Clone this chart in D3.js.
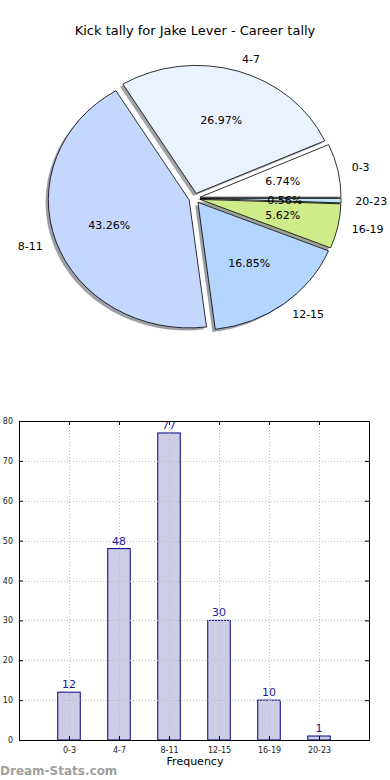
<!DOCTYPE html>
<html>
<head>
<meta charset="utf-8">
<script src="https://cdn.jsdelivr.net/npm/d3@7"></script>
<style>
  body { margin: 0; background: #fff; }
  svg { display: block; font-family: "DejaVu Sans", sans-serif; }
</style>
</head>
<body>
<svg id="chart" width="390" height="780"></svg>
<script>
// kick tally buckets
var categories = ["0-3", "4-7", "8-11", "12-15", "16-19", "20-23"];
var kicks = [12, 48, 77, 30, 10, 1];
var sliceColors = ["#ffffff", "#eaf1ff", "#c4d8ff", "#b3d5ff", "#cfeb8a", "#bfe3f5"];
var yTicks = [0, 10, 20, 30, 40, 50, 60, 70, 80];

var svg = d3.select("#chart");
var total = d3.sum(kicks);

svg.append("text")
  .attr("x", 195).attr("y", 35)
  .attr("text-anchor", "middle")
  .style("font-size", "13px")
  .style("fill", "#000")
  .text("Kick tally for Jake Lever - Career tally");

// ---- pie (matplotlib style: ccw from 3 o'clock, slightly elliptical) ----
var cx = 194.5, cy = 198.3, rx = 141, ry = 128, explode = 0.04;

var pie = d3.pie().sort(null)
  .startAngle(Math.PI / 2)
  .endAngle(Math.PI / 2 - 2 * Math.PI);
var arcs = pie(kicks);
var unitArc = d3.arc().innerRadius(0).outerRadius(1);

function mid(d) { return (d.startAngle + d.endAngle) / 2; }
function centerOf(d) {
  var m = mid(d);
  return [cx + explode * rx * Math.sin(m), cy - explode * ry * Math.cos(m)];
}

var pieG = svg.append("g");

// shadows first, under every wedge
pieG.selectAll("path.shadow").data(arcs).enter().append("path")
  .attr("class", "shadow")
  .attr("d", unitArc)
  .attr("transform", function(d) {
    var c = centerOf(d);
    return "translate(" + (c[0] - 0.02 * rx) + "," + (c[1] + 0.02 * ry) + ") scale(" + rx + "," + ry + ")";
  })
  .attr("fill", function(d, i) {
    var c = d3.rgb(sliceColors[i]);
    return d3.rgb(c.r * 0.3, c.g * 0.3, c.b * 0.3);
  })
  .attr("fill-opacity", 0.5);

pieG.selectAll("path.wedge").data(arcs).enter().append("path")
  .attr("class", "wedge")
  .attr("d", unitArc)
  .attr("transform", function(d) {
    var c = centerOf(d);
    return "translate(" + c[0] + "," + c[1] + ") scale(" + rx + "," + ry + ")";
  })
  .attr("fill", function(d, i) { return sliceColors[i]; })
  .attr("stroke", "#000")
  .attr("stroke-width", 0.8)
  .attr("vector-effect", "non-scaling-stroke");

// category labels at 1.1 r
pieG.selectAll("text.lbl").data(arcs).enter().append("text")
  .attr("class", "lbl")
  .attr("x", function(d) { return centerOf(d)[0] + 1.1 * rx * Math.sin(mid(d)); })
  .attr("y", function(d) { return centerOf(d)[1] - 1.1 * ry * Math.cos(mid(d)); })
  .attr("dy", "0.35em")
  .attr("text-anchor", function(d) { return Math.sin(mid(d)) > 0 ? "start" : "end"; })
  .style("font-size", "11px")
  .text(function(d, i) { return categories[i]; });

// percentages at 0.6 r
pieG.selectAll("text.pct").data(arcs).enter().append("text")
  .attr("class", "pct")
  .attr("x", function(d) { return centerOf(d)[0] + 0.6 * rx * Math.sin(mid(d)); })
  .attr("y", function(d) { return centerOf(d)[1] - 0.6 * ry * Math.cos(mid(d)); })
  .attr("dy", "0.35em")
  .attr("text-anchor", "middle")
  .style("font-size", "11px")
  .text(function(d) { return (d.value / total * 100).toFixed(2) + "%"; });

// ---- bar chart ----
// (don't call it "top", that's window.top)
var plotL = 19, plotR = 369, plotT = 421, plotB = 740;
var x = d3.scaleLinear().domain([-1, 6]).range([plotL, plotR]);
var y = d3.scaleLinear().domain([0, 80]).range([plotB, plotT]);
var barW = x(0.45) - x(0);

var barG = svg.append("g");

barG.selectAll("rect.bar").data(kicks).enter().append("rect")
  .attr("class", "bar")
  .attr("x", function(d, i) { return x(i) - barW / 2; })
  .attr("y", function(d) { return y(d); })
  .attr("width", barW)
  .attr("height", function(d) { return y(0) - y(d); })
  .attr("fill", "#ccccE5")
  .attr("stroke", "#000080")
  .attr("stroke-width", 1);

// grid, drawn over the bars
var gridStyle = function(sel) {
  sel.attr("stroke", "#bdbdbd").attr("stroke-width", 1).attr("stroke-dasharray", "1,2");
};
barG.selectAll("line.gx").data(categories).enter().append("line")
  .attr("class", "gx")
  .attr("x1", function(d, i) { return Math.round(x(i)) + 0.5; })
  .attr("x2", function(d, i) { return Math.round(x(i)) + 0.5; })
  .attr("y1", plotT).attr("y2", plotB)
  .call(gridStyle);
barG.selectAll("line.gy").data(yTicks.slice(1, -1)).enter().append("line")
  .attr("class", "gy")
  .attr("x1", plotL).attr("x2", plotR)
  .attr("y1", function(d) { return Math.round(y(d)) + 0.5; })
  .attr("y2", function(d) { return Math.round(y(d)) + 0.5; })
  .call(gridStyle);

// value labels
barG.selectAll("text.val").data(kicks).enter().append("text")
  .attr("class", "val")
  .attr("x", function(d, i) { return x(i); })
  .attr("y", function(d) { return y(d) - 4; })
  .attr("text-anchor", "middle")
  .style("font-size", "11px")
  .style("fill", "#1a1a99")
  .text(function(d) { return d; });

// axes, ticks pointing inward on all four sides
var axB = d3.axisBottom(x).tickValues(d3.range(categories.length))
  .tickFormat(function(i) { return categories[i]; }).tickSizeInner(-4).tickSizeOuter(0).tickPadding(7);
var axT = d3.axisTop(x).tickValues(d3.range(categories.length))
  .tickFormat("").tickSizeInner(-4).tickSizeOuter(0);
var axL = d3.axisLeft(y).tickValues(yTicks).tickSizeInner(-4).tickSizeOuter(0).tickPadding(6);
var axR = d3.axisRight(y).tickValues(yTicks).tickFormat("").tickSizeInner(-4).tickSizeOuter(0);

function styleAxis(g) {
  g.select(".domain").remove();
  g.selectAll(".tick line").attr("stroke", "#000");
  g.selectAll(".tick text").style("font-size", "8px").style("font-family", "DejaVu Sans, sans-serif").attr("fill", "#222");
}
svg.append("g").attr("transform", "translate(0," + plotB + ")").call(axB).call(styleAxis);
svg.append("g").attr("transform", "translate(0," + plotT + ")").call(axT).call(styleAxis);
svg.append("g").attr("transform", "translate(" + plotL + ",0)").call(axL).call(styleAxis);
svg.append("g").attr("transform", "translate(" + plotR + ",0)").call(axR).call(styleAxis);

svg.append("rect")
  .attr("x", plotL + 0.5).attr("y", plotT + 0.5)
  .attr("width", plotR - plotL).attr("height", plotB - plotT)
  .attr("fill", "none").attr("stroke", "#000").attr("stroke-width", 1);

svg.append("text")
  .attr("x", (plotL + plotR) / 2 + 1).attr("y", 765)
  .attr("text-anchor", "middle")
  .style("font-size", "11px")
  .text("Frequency");

svg.append("text")
  .attr("x", 0).attr("y", 775)
  .style("font-size", "12px")
  .style("font-weight", "bold")
  .style("fill", "#a0a0a0")
  .text("Dream-Stats.com");
</script>
</body>
</html>
